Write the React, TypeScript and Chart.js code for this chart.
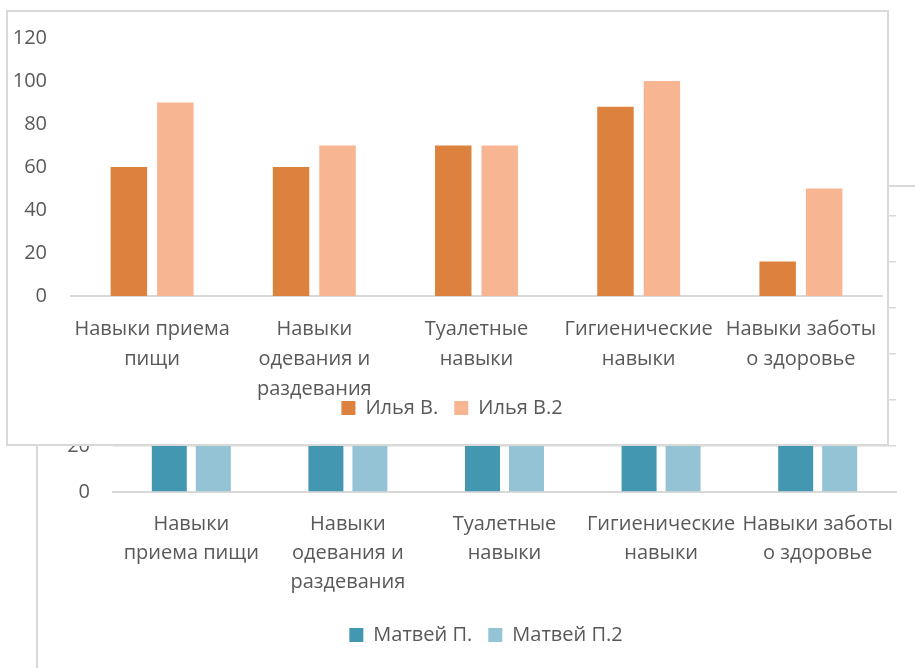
import React, { useEffect, useRef } from "react";
import { Chart, registerables } from "chart.js";

Chart.register(...registerables);

// ---- Data ----
const frontCategories: string[][] = [
  ["Навыки приема", "пищи"],
  ["Навыки", "одевания и", "раздевания"],
  ["Туалетные", "навыки"],
  ["Гигиенические", "навыки"],
  ["Навыки заботы", "о здоровье"],
];
const backCategories: string[][] = [
  ["Навыки", "приема пищи"],
  ["Навыки", "одевания и", "раздевания"],
  ["Туалетные", "навыки"],
  ["Гигиенические", "навыки"],
  ["Навыки заботы", "о здоровье"],
];
const ilyaV = [60, 60, 70, 88, 16];
const ilyaV2 = [90, 70, 70, 100, 50];
// Largely hidden behind the front chart; only the part below 20 is visible
const matveyP = [60, 50, 70, 80, 40];
const matveyP2 = [80, 70, 70, 90, 60];
const yMin = 0;
const yMax = 120;
const yStep = 20;

const TEXT = "#595959";
const LINE = "#d9d9d9";
const FONT = "'Open Sans', 'Noto Sans', sans-serif";

type Cfg = {
  labels: string[][];
  series: { label: string; data: number[]; color: string }[];
  padding: { top: number; right: number; bottom: number; left: number };
  yWidth: number;
  yPad: number;
  xHeight: number;
  xPad: number;
  lineHeight: number;
  grid: boolean;
  catPct: number;
  barPct: number;
  legendDx: number;
  legendDy: number;
};

const legendShift = {
  id: "legendShift",
  afterLayout(chart: any, _args: any, opts: any) {
    const l = chart.legend;
    if (!l) return;
    const dx = opts.dx || 0;
    const dy = opts.dy || 0;
    l.left += dx;
    l.right += dx;
    l.top += dy;
    l.bottom += dy;
  },
};

function buildConfig(c: Cfg): any {
  return {
    type: "bar",
    data: {
      labels: c.labels,
      datasets: c.series.map((s) => ({
        label: s.label,
        data: s.data,
        backgroundColor: s.color,
        borderWidth: 0,
        categoryPercentage: c.catPct,
        barPercentage: c.barPct,
      })),
    },
    plugins: [legendShift],
    options: {
      responsive: false,
      animation: false,
      layout: { padding: c.padding },
      plugins: {
        tooltip: { enabled: false },
        legendShift: { dx: c.legendDx, dy: c.legendDy },
        legend: {
          position: "bottom",
          labels: {
            color: TEXT,
            font: { family: FONT, size: 20 },
            boxWidth: 14,
            boxHeight: 14,
            padding: 16,
          },
        },
      },
      scales: {
        x: {
          grid: { display: false },
          border: { display: true, color: LINE, width: 2 },
          ticks: {
            color: TEXT,
            font: { family: FONT, size: 20, lineHeight: c.lineHeight },
            padding: c.xPad,
            autoSkip: false,
            maxRotation: 0,
            minRotation: 0,
          },
          afterFit: (s: any) => {
            s.height = c.xHeight;
            s.paddingLeft = 0;
            s.paddingRight = 0;
          },
        },
        y: {
          min: yMin,
          max: yMax,
          grid: { display: c.grid, color: LINE, lineWidth: 1.5, drawTicks: false },
          border: { display: false },
          ticks: {
            stepSize: yStep,
            color: TEXT,
            font: { family: FONT, size: 20 },
            padding: c.yPad,
          },
          afterFit: (s: any) => {
            s.width = c.yWidth;
            s.paddingTop = 0;
            s.paddingBottom = 0;
          },
        },
      },
    },
  };
}

function ChartCanvas({ cfg, width, height }: { cfg: Cfg; width: number; height: number }) {
  const ref = useRef<HTMLCanvasElement | null>(null);
  useEffect(() => {
    if (!ref.current) return;
    const chart = new Chart(ref.current, buildConfig(cfg));
    return () => chart.destroy();
  }, []);
  return <canvas ref={ref} width={width} height={height} style={{ display: "block", width, height }} />;
}

const backCfg: Cfg = {
  labels: backCategories,
  series: [
    { label: "Матвей П.", data: matveyP, color: "#4397B0" },
    { label: "Матвей П.2", data: matveyP2, color: "#93C3D4" },
  ],
  padding: { top: 29, right: 42, bottom: 0, left: 0 },
  yWidth: 75,
  yPad: 23,
  xHeight: 149,
  xPad: 10,
  lineHeight: 1.45,
  grid: true,
  catPct: 0.562,
  barPct: 0.795,
  legendDx: 19,
  legendDy: -32,
};

const frontCfg: Cfg = {
  labels: frontCategories,
  series: [
    { label: "Илья В.", data: ilyaV, color: "#DC823E" },
    { label: "Илья В.2", data: ilyaV2, color: "#F8B592" },
  ],
  padding: { top: 26, right: 5, bottom: 0, left: 0 },
  yWidth: 63,
  yPad: 24,
  xHeight: 140,
  xPad: 10,
  lineHeight: 1.5,
  grid: false,
  catPct: 0.573,
  barPct: 0.785,
  legendDx: 7,
  legendDy: -54,
};

export default function App() {
  return (
    <div style={{ position: "fixed", left: 0, top: 0, width: 915, height: 668, overflow: "hidden", background: "#fff" }}>
      <div
        style={{
          position: "absolute",
          left: 36,
          top: 185,
          width: 900,
          height: 500,
          border: `2px solid ${LINE}`,
          background: "#fff",
          overflow: "hidden",
        }}
      >
        <ChartCanvas cfg={backCfg} width={900} height={500} />
      </div>
      <div
        style={{
          position: "absolute",
          left: 6,
          top: 10,
          width: 879,
          height: 432,
          border: `2px solid ${LINE}`,
          background: "#fff",
          overflow: "hidden",
        }}
      >
        <ChartCanvas cfg={frontCfg} width={879} height={470} />
      </div>
    </div>
  );
}
